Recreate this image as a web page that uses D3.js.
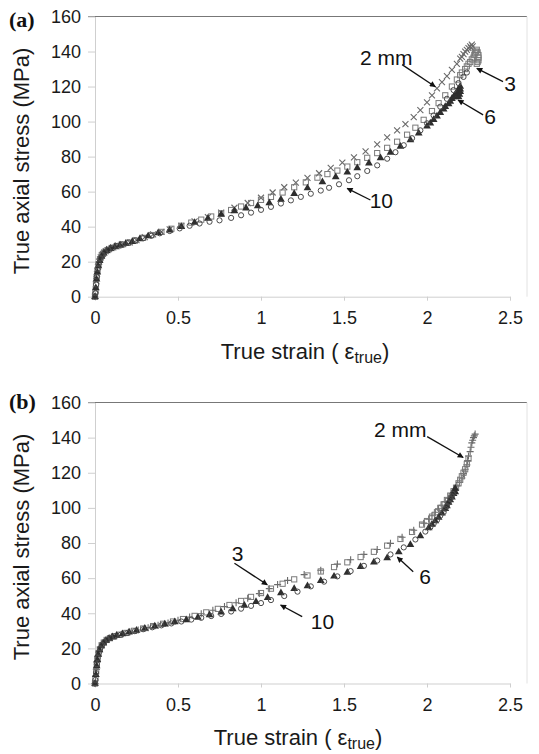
<!DOCTYPE html>
<html>
<head>
<meta charset="utf-8">
<script src="https://cdn.jsdelivr.net/npm/d3@7"></script>
<style>
  body { margin: 0; background: #fff; }
  svg { display: block; font-family: "Liberation Sans", Arial, sans-serif; }
</style>
</head>
<body>
<div id="chart"></div>
<script>
// ---- data: [true strain, true axial stress (MPa)] ----
const xTicks = [0, 0.5, 1, 1.5, 2, 2.5];
const yTicks = [0, 20, 40, 60, 80, 100, 120, 140, 160];

// panel (a)
const a2mm = [[0,0],[0.004,4],[0.008,9],[0.012,13],[0.018,17],[0.025,20],[0.035,22.5],[0.048,24.5],[0.065,26],[0.085,27.2],[0.11,28.2],[0.14,29.2],[0.17,30],[0.21,31],[0.25,32.3],[0.3,34],[0.35,35.6],[0.4,37],[0.45,38.5],[0.52,40.5],[0.6,43],[0.68,45.5],[0.76,48],[0.84,50.8],[0.92,53.5],[1.0,56.5],[1.07,59.5],[1.14,62.5],[1.21,65.2],[1.28,67.8],[1.35,70.5],[1.42,73.5],[1.49,76.5],[1.56,79.5],[1.63,83],[1.7,87],[1.76,91],[1.82,95],[1.87,98.5],[1.92,102.5],[1.96,106.5],[2.0,111],[2.03,115],[2.06,119],[2.09,122.5],[2.12,126],[2.15,129.5],[2.18,133],[2.2,136],[2.21,137],[2.22,138.5],[2.23,140],[2.24,141],[2.25,142],[2.26,143],[2.265,142],[2.27,144],[2.275,143]];
const a3mm = [[0,0],[0.003,3],[0.006,7],[0.01,11],[0.015,15],[0.021,18.5],[0.03,21.5],[0.041,23.8],[0.055,25.3],[0.075,26.6],[0.1,27.8],[0.13,28.8],[0.16,29.7],[0.2,30.8],[0.24,32],[0.29,33.6],[0.34,35.2],[0.4,37],[0.46,38.8],[0.52,40.5],[0.58,42.3],[0.64,44],[0.7,45.8],[0.76,47.6],[0.82,49.5],[0.88,51.5],[0.94,53.5],[1.0,55.3],[1.06,57],[1.13,59.5],[1.2,62.5],[1.27,65.3],[1.34,68],[1.4,70],[1.46,72],[1.52,74.3],[1.58,76.8],[1.64,79.3],[1.7,82],[1.76,85],[1.82,88.5],[1.88,92.5],[1.93,96.5],[1.98,101],[2.03,106],[2.07,110.5],[2.11,115],[2.15,120],[2.18,124],[2.2,126.5],[2.21,128],[2.23,130],[2.24,131.5],[2.25,133],[2.26,134],[2.27,135.5],[2.28,136.5],[2.285,138],[2.29,139],[2.295,140],[2.3,141],[2.305,139.5],[2.31,138],[2.31,136.5],[2.31,135],[2.305,134],[2.3,133]];
const a6mm = [[0,0],[0.005,5],[0.009,10],[0.014,14],[0.02,17.5],[0.028,20.5],[0.039,23],[0.052,24.8],[0.07,26.2],[0.092,27.4],[0.12,28.5],[0.15,29.4],[0.185,30.3],[0.225,31.4],[0.27,32.9],[0.32,34.6],[0.38,36.3],[0.45,38],[0.52,40],[0.6,42.3],[0.68,44.6],[0.76,47],[0.84,49],[0.91,50.5],[0.98,51.8],[1.05,53.5],[1.12,55.5],[1.2,58.8],[1.28,62],[1.37,65.5],[1.45,68.3],[1.52,71],[1.58,73.5],[1.65,76.2],[1.72,79.2],[1.78,82.3],[1.84,85.8],[1.9,89.5],[1.95,93.3],[2.0,97.3],[2.02,99],[2.04,101],[2.06,103],[2.08,105],[2.1,107],[2.11,108.5],[2.13,110],[2.14,111.5],[2.15,113],[2.16,114],[2.17,115.5],[2.18,116.5],[2.185,117.5],[2.19,118.5],[2.2,120],[2.2,118.5],[2.2,117],[2.195,115.5],[2.19,114]];
const a10mm = [[0,0],[0.002,2],[0.007,7],[0.011,11.5],[0.017,16],[0.023,19],[0.033,22],[0.045,24],[0.06,25.6],[0.08,26.9],[0.105,28],[0.135,29],[0.165,29.9],[0.205,31],[0.245,32.2],[0.29,33.4],[0.34,34.8],[0.39,36.2],[0.45,37.5],[0.51,39],[0.57,40.5],[0.63,41.8],[0.69,42.8],[0.75,43.6],[0.82,45],[0.88,46.5],[0.94,48],[1.0,49.6],[1.06,51.3],[1.12,53.2],[1.18,55],[1.24,57],[1.3,58.8],[1.36,60.6],[1.41,62.2],[1.47,64.2],[1.53,66.5],[1.58,68.8],[1.64,71.8],[1.7,75],[1.76,78.8],[1.81,82.5],[1.86,86.5],[1.91,90.5],[1.96,95],[2.0,99],[2.04,103.5],[2.08,108.5],[2.12,113],[2.16,118],[2.19,122],[2.22,125.5],[2.24,128]];

// panel (b)
const b2mm = [[0,0],[0.004,4],[0.008,8],[0.012,12],[0.017,15.5],[0.024,18.5],[0.033,20.5],[0.045,22.5],[0.06,24],[0.08,25.3],[0.1,26.3],[0.13,27.3],[0.17,28.3],[0.21,29.3],[0.26,30.5],[0.32,31.8],[0.38,33.2],[0.44,34.5],[0.5,36],[0.57,37.8],[0.64,39.7],[0.71,41.7],[0.78,43.8],[0.85,46],[0.92,48.5],[0.99,51.2],[1.05,54],[1.1,56.3],[1.16,58.7],[1.26,62],[1.36,64.5],[1.46,68],[1.54,70.5],[1.62,73.5],[1.7,76.3],[1.78,79.8],[1.85,83.3],[1.92,87.3],[1.98,91.3],[2.01,93.5],[2.03,95.5],[2.05,97.5],[2.07,99.5],[2.09,101.5],[2.11,103.5],[2.13,105.5],[2.15,108],[2.165,110],[2.18,112.5],[2.195,114.5],[2.21,117],[2.22,119.5],[2.23,122],[2.24,124.5],[2.245,127],[2.25,129.5],[2.26,132],[2.265,134.5],[2.27,137],[2.275,138.5],[2.28,140],[2.285,141],[2.29,142]];
const b3mm = [[0,0],[0.003,3],[0.007,7],[0.011,11],[0.015,14],[0.021,17],[0.029,19.5],[0.04,21.8],[0.053,23.3],[0.07,24.8],[0.09,25.8],[0.115,26.8],[0.15,27.8],[0.19,28.8],[0.235,30],[0.29,31.3],[0.35,32.7],[0.41,34],[0.47,35.3],[0.53,36.7],[0.6,38.5],[0.67,40.5],[0.74,42.5],[0.81,44.7],[0.88,47],[0.94,49.3],[1.0,51.5],[1.06,54],[1.13,56.8],[1.2,59.3],[1.28,61.5],[1.36,63.8],[1.44,66.3],[1.52,69],[1.6,72],[1.68,75],[1.76,78.5],[1.84,82.3],[1.91,86.3],[1.97,90.5],[2.0,92.5],[2.03,95],[2.06,97.5],[2.08,100],[2.1,102],[2.12,104.5],[2.14,107],[2.16,109.5],[2.175,111.5],[2.19,114],[2.2,116],[2.21,118],[2.22,120],[2.23,122],[2.24,125],[2.25,128]];
const b6mm = [[0,0],[0.005,5],[0.01,10],[0.014,13.5],[0.019,16.5],[0.027,19],[0.037,21.3],[0.05,23],[0.066,24.5],[0.085,25.6],[0.105,26.5],[0.13,27.3],[0.165,28.2],[0.205,29.2],[0.25,30.2],[0.3,31.3],[0.36,32.6],[0.42,33.8],[0.48,35],[0.55,36.2],[0.62,37.6],[0.69,39],[0.76,40.6],[0.83,42.4],[0.9,44.4],[0.97,46.5],[1.04,48.8],[1.12,51.5],[1.2,54],[1.28,55.5],[1.36,58.5],[1.44,61],[1.52,63.2],[1.6,66.5],[1.68,69],[1.76,71.5],[1.83,74.8],[1.9,79],[1.96,84],[2.01,88.5],[2.03,90.5],[2.05,92.5],[2.07,94.5],[2.09,97],[2.11,99.5],[2.12,101],[2.13,103],[2.14,104.5],[2.15,106],[2.16,108],[2.165,109.5],[2.17,111],[2.17,109]];
const b10mm = [[0,0],[0.002,2],[0.006,6],[0.011,11],[0.016,14.5],[0.023,17.5],[0.032,20],[0.043,22],[0.057,23.7],[0.075,25],[0.095,26],[0.12,26.9],[0.155,27.8],[0.195,28.8],[0.24,29.8],[0.29,30.9],[0.345,32],[0.4,33.1],[0.46,34.2],[0.52,35.3],[0.58,36.4],[0.64,37.4],[0.7,38.4],[0.76,39.6],[0.82,41],[0.88,42.6],[0.94,44.2],[1.0,45.8],[1.06,47.5],[1.14,49.8],[1.22,52.3],[1.3,55.3],[1.38,58],[1.46,61],[1.54,64],[1.62,67],[1.7,70],[1.78,73.5],[1.86,77.5],[1.93,82],[1.99,86.5],[2.02,89],[2.04,91],[2.06,93],[2.08,95.5],[2.1,97.5],[2.11,99.5],[2.12,101],[2.13,103],[2.14,105],[2.15,106.5],[2.155,108]];

// callouts: label, text anchor point, arrow tail, arrow tip (data units)
const aNotes = [
  {text: '2 mm', at: [1.755, 136.9], from: [1.85, 132.5], to: [2.05, 119.9]},
  {text: '3',    at: [2.50, 122.0],  from: [2.458, 122.8], to: [2.30, 130.4]},
  {text: '6',    at: [2.38, 103.2],  from: [2.338, 103.8], to: [2.187, 112.3]},
  {text: '10',   at: [1.725, 55.2],  from: [1.659, 55.2], to: [1.519, 61.9]}
];
const bNotes = [
  {text: '2 mm', at: [1.839, 144.6], from: [2.001, 140.6], to: [2.218, 128.7]},
  {text: '3',    at: [0.859, 74.3],  from: [0.84, 68.5], to: [1.038, 56.2]},
  {text: '10',   at: [1.37, 35.6],   from: [1.248, 38.1], to: [1.118, 44.7]},
  {text: '6',    at: [1.989, 61.2],  from: [1.917, 63.6], to: [1.821, 72.0]}
];

const W = 539, H = 754;
const svg = d3.select('#chart').append('svg').attr('width', W).attr('height', H);

svg.append('defs').append('marker')
  .attr('id', 'head').attr('viewBox', '0 0 10 10')
  .attr('refX', 9).attr('refY', 5)
  .attr('markerWidth', 7).attr('markerHeight', 6)
  .attr('markerUnits', 'userSpaceOnUse')
  .attr('orient', 'auto')
  .append('path').attr('d', 'M0,0L10,5L0,10Z').attr('fill', '#111');

const panels = [
  {tag: '(a)', top: 16.5, bottom: 296.7, tagY: 27, yLabelY: 161, xLabelY: 359, xLabelX: 305, cross: 'x',
   series: [a2mm, a3mm, a6mm, a10mm], notes: aNotes},
  {tag: '(b)', top: 402.5, bottom: 683.5, tagY: 409, yLabelY: 547, xLabelY: 745, xLabelX: 298, cross: '+',
   series: [b2mm, b3mm, b6mm, b10mm], notes: bNotes}
];

const left = 95, right = 510, frameRight = 527;
const tri = d3.symbol(d3.symbolTriangle, 26)();

panels.forEach(p => {
  const x = d3.scaleLinear().domain([0, 2.5]).range([left, right]);
  const y = d3.scaleLinear().domain([0, 160]).range([p.bottom, p.top]);
  const g = svg.append('g');

  // frame: dark top line, light right border
  g.append('line').attr('x1', left - 7).attr('x2', frameRight)
    .attr('y1', y(160)).attr('y2', y(160)).attr('stroke', '#777').attr('stroke-width', 1);
  g.append('line').attr('x1', frameRight).attr('x2', frameRight)
    .attr('y1', y(160)).attr('y2', y(0)).attr('stroke', '#e2e2e2');

  // axes
  const yAxis = g.append('g').attr('transform', `translate(${left},0)`)
    .call(d3.axisLeft(y).tickValues(yTicks).tickSize(7).tickSizeOuter(0).tickPadding(7));
  const xAxis = g.append('g').attr('transform', `translate(0,${y(0)})`)
    .call(d3.axisBottom(x).tickValues(xTicks).tickSize(4).tickSizeOuter(0).tickPadding(11)
      .tickFormat(d => d));
  [yAxis, xAxis].forEach(ax => {
    ax.select('.domain').attr('stroke', '#cfcfcf');
    ax.selectAll('.tick line').attr('stroke', '#cfcfcf');
    ax.selectAll('.tick text').attr('font-size', 18).attr('fill', '#1a1a1a')
      .attr('font-family', '"Liberation Sans", Arial, sans-serif');
  });

  // markers
  const [s2, s3, s6, s10] = p.series;
  const crossPath = p.cross === '+' ? 'M-3.5,0H3.5M0,-3.5V3.5' : 'M-3,-3L3,3M-3,3L3,-3';
  g.append('g').selectAll('path').data(s2).join('path')
    .attr('transform', d => `translate(${x(d[0])},${y(d[1])})`)
    .attr('d', crossPath).attr('stroke', '#6a6a6a').attr('stroke-width', 1.1).attr('fill', 'none');
  g.append('g').selectAll('rect').data(s3).join('rect')
    .attr('x', d => x(d[0]) - 2.6).attr('y', d => y(d[1]) - 2.6)
    .attr('width', 5.2).attr('height', 5.2)
    .attr('fill', 'none').attr('stroke', '#7a7a7a').attr('stroke-width', 1);
  g.append('g').selectAll('path').data(s6).join('path')
    .attr('transform', d => `translate(${x(d[0])},${y(d[1])})`)
    .attr('d', tri).attr('fill', '#2e2e2e');
  g.append('g').selectAll('circle').data(s10).join('circle')
    .attr('cx', d => x(d[0])).attr('cy', d => y(d[1])).attr('r', 2.6)
    .attr('fill', 'none').attr('stroke', '#4a4a4a').attr('stroke-width', 1);

  // callouts
  p.notes.forEach(n => {
    g.append('line')
      .attr('x1', x(n.from[0])).attr('y1', y(n.from[1]))
      .attr('x2', x(n.to[0])).attr('y2', y(n.to[1]))
      .attr('stroke', '#111').attr('stroke-width', 1.3)
      .attr('marker-end', 'url(#head)');
    g.append('text').attr('x', x(n.at[0])).attr('y', y(n.at[1]))
      .attr('dy', '0.36em').attr('text-anchor', 'middle')
      .attr('font-size', 21).attr('fill', '#111').text(n.text);
  });

  // panel tag
  g.append('text').attr('x', 9).attr('y', p.tagY)
    .attr('font-family', '"Liberation Serif", "Times New Roman", serif')
    .attr('font-weight', 'bold').attr('font-size', 22).attr('fill', '#111').text(p.tag);

  // axis titles
  g.append('text')
    .attr('transform', `translate(28.5,${p.yLabelY}) rotate(-90)`)
    .attr('text-anchor', 'middle').attr('font-size', 22).attr('fill', '#1a1a1a')
    .text('True axial stress (MPa)');
  const xt = g.append('text').attr('x', p.xLabelX).attr('y', p.xLabelY)
    .attr('text-anchor', 'middle').attr('font-size', 22).attr('fill', '#1a1a1a');
  xt.append('tspan').text('True strain ( \u03b5');
  xt.append('tspan').attr('font-size', 16).attr('dy', 4).text('true');
  xt.append('tspan').attr('dy', -4).text(')');
});
</script>
</body>
</html>
